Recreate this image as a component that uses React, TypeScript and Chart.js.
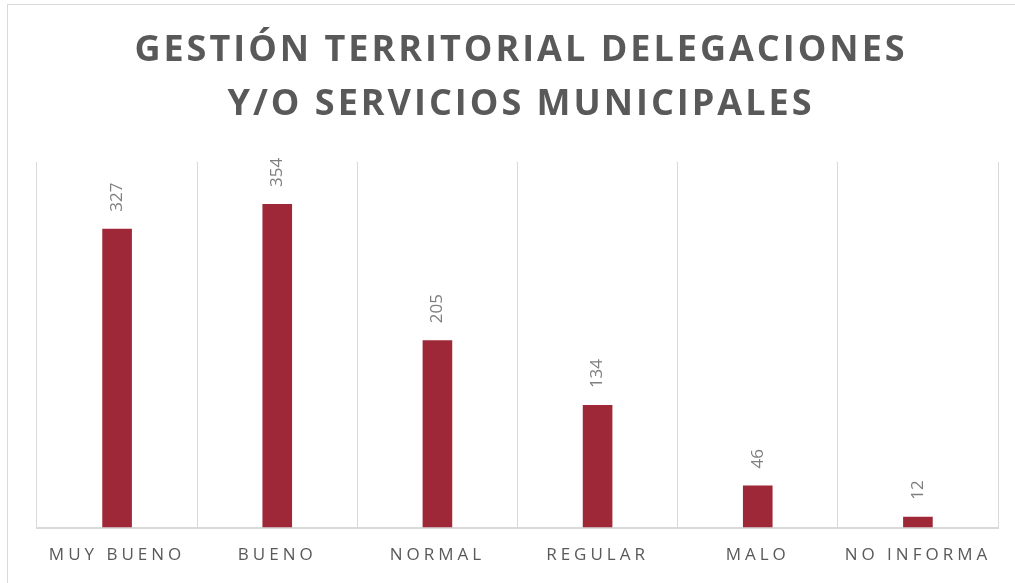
import React, { useEffect, useRef } from "react";
import { Chart, registerables } from "chart.js";

Chart.register(...registerables);

const categories = ["MUY BUENO", "BUENO", "NORMAL", "REGULAR", "MALO", "NO INFORMA"];
const values = [327, 354, 205, 134, 46, 12];
const titleLines = ["GESTIÓN TERRITORIAL DELEGACIONES", "Y/O SERVICIOS MUNICIPALES"];

const FONT = "'Open Sans', 'Noto Sans', sans-serif";

const customPlugin = {
  id: "custom",
  beforeDraw(chart: any) {
    const ctx = chart.ctx;
    ctx.save();
    ctx.fillStyle = "#ffffff";
    ctx.fillRect(0, 0, chart.width, chart.height);
    ctx.restore();
    (ctx as any).letterSpacing = "4px";
  },
  beforeDatasetsDraw(chart: any) {
    (chart.ctx as any).letterSpacing = "0px";
  },
  afterDatasetsDraw(chart: any) {
    const ctx = chart.ctx;
    const meta = chart.getDatasetMeta(0);
    ctx.save();
    (ctx as any).letterSpacing = "0px";
    ctx.fillStyle = "#7f7f7f";
    ctx.font = `17px ${FONT}`;
    ctx.textAlign = "left";
    ctx.textBaseline = "middle";
    meta.data.forEach((bar: any, i: number) => {
      ctx.save();
      ctx.translate(bar.x, bar.y - 17);
      ctx.rotate(-Math.PI / 2);
      ctx.fillText(String(values[i]), 0, 0);
      ctx.restore();
    });
    ctx.restore();
  },
  afterDraw(chart: any) {
    const ctx = chart.ctx;
    ctx.save();
    (ctx as any).letterSpacing = "3px";
    ctx.fillStyle = "#595959";
    ctx.font = `bold 36px ${FONT}`;
    ctx.textAlign = "center";
    ctx.textBaseline = "middle";
    const cx = 521;
    ctx.fillText(titleLines[0], cx, 51);
    ctx.fillText(titleLines[1], cx, 105);
    ctx.restore();
  },
};

export default function App() {
  const ref = useRef<HTMLCanvasElement>(null);
  useEffect(() => {
    document.body.style.margin = "0";
    const chart = new Chart(ref.current!, {
      type: "bar",
      data: {
        labels: categories,
        datasets: [
          {
            data: values,
            backgroundColor: "#9E2838",
            barPercentage: 0.37,
            categoryPercentage: 0.5,
          },
        ],
      },
      options: {
        animation: false,
        responsive: false,
        devicePixelRatio: 1,
        layout: { padding: { left: 37, right: 17, top: 162, bottom: 1 } },
        plugins: {
          legend: { display: false },
          title: { display: false },
          tooltip: { enabled: false },
        },
        scales: {
          x: {
            offset: true,
            grid: {
              display: true,
              offset: true,
              color: "#d9d9d9",
              lineWidth: 1,
              drawTicks: false,
            },
            border: { display: true, color: "#d9d9d9", width: 2 },
            ticks: {
              color: "#595959",
              font: { family: FONT, size: 17 },
              padding: 17,
              maxRotation: 0,
              autoSkip: false,
            },
          },
          y: {
            display: false,
            min: 0,
            max: 400,
          },
        },
      },
      plugins: [customPlugin],
    });
    return () => chart.destroy();
  }, []);
  return (
    <div style={{ position: "relative", width: 1015, height: 583, overflow: "hidden", background: "#fff" }}>
      <canvas ref={ref} width={1015} height={583} style={{ position: "absolute", left: 0, top: 0 }} />
      <div
        style={{
          position: "absolute",
          left: 7,
          top: 4,
          width: 1100,
          height: 700,
          borderLeft: "1px solid #d9d9d9",
          borderTop: "1px solid #d9d9d9",
          pointerEvents: "none",
        }}
      />
    </div>
  );
}
